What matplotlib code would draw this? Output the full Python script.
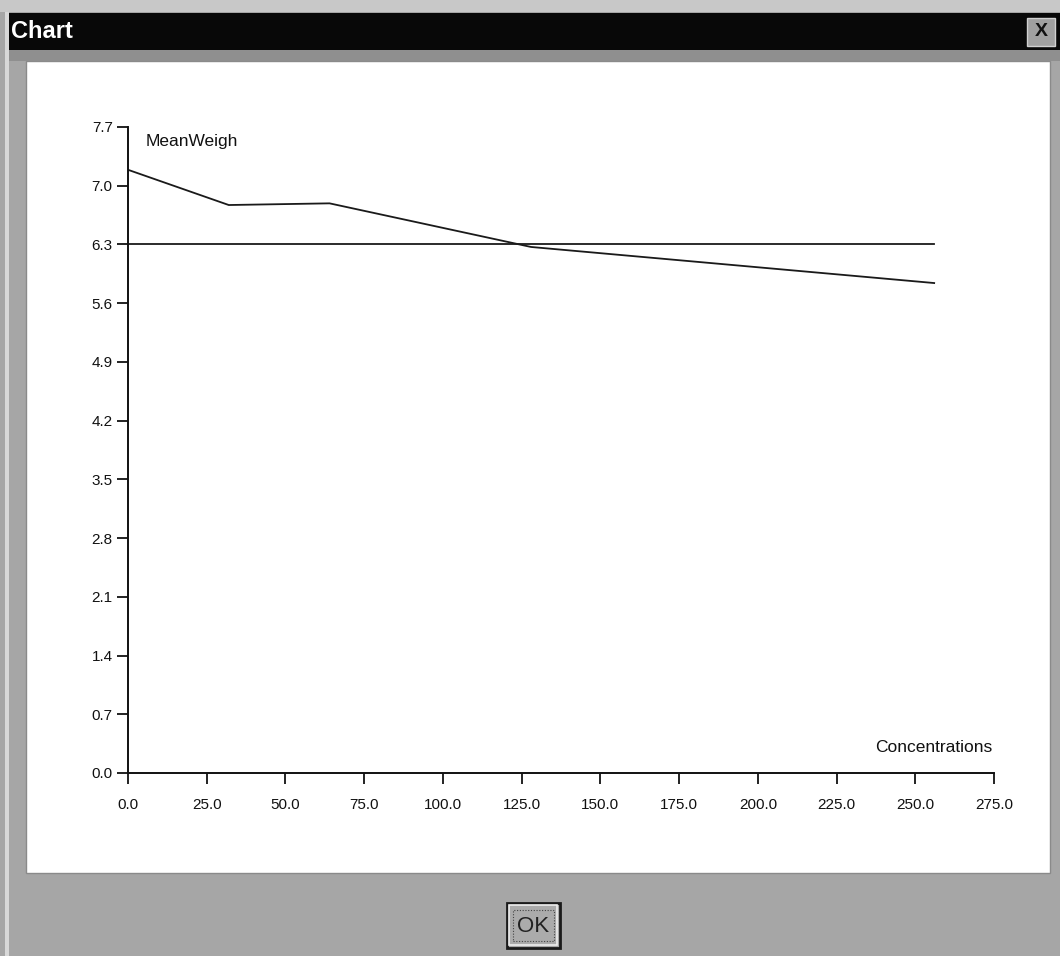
import matplotlib
matplotlib.use("Agg")
import matplotlib.pyplot as plt
from matplotlib.patches import Rectangle

plt.rcParams['font.family'] = ['Liberation Sans', 'DejaVu Sans']

# data
conc = [0, 32, 64, 128, 256]
mean_weigh = [7.19, 6.77, 6.79, 6.27, 5.84]
ref_conc = [0, 256]
ref_weigh = [6.3, 6.3]

x_ticks = [0, 25, 50, 75, 100, 125, 150, 175, 200, 225, 250, 275]
y_ticks = [0.0, 0.7, 1.4, 2.1, 2.8, 3.5, 4.2, 4.9, 5.6, 6.3, 7.0, 7.7]

W, H = 1060, 956
fig = plt.figure(figsize=(W / 100, H / 100), dpi=100)
fig.patch.set_facecolor('#a6a6a6')

def px_rect(x0, y0, x1, y1, **kw):
    # rectangle given in pixel coords (top-left origin)
    r = Rectangle((x0 / W, 1 - y1 / H), (x1 - x0) / W, (y1 - y0) / H,
                  transform=fig.transFigure, zorder=-5, **kw)
    fig.patches.append(r)
    return r

# window frame
px_rect(0, 0, W, 12, facecolor='#c8c8c8', edgecolor='none')
px_rect(5, 12, 9, H, facecolor='#d8d8d8', edgecolor='none')
px_rect(9, 13, W, 50, facecolor='#080808', edgecolor='none')
px_rect(9, 50, W, 61, facecolor='#8f8f8f', edgecolor='none')
px_rect(26, 61, 1050, 873, facecolor='white', edgecolor='#8a8a8a', lw=1)
fig.text(11 / W, 1 - 32 / H, 'Chart', color='white', fontsize=17,
         fontweight='bold', va='center', ha='left')
# close button
px_rect(1027, 18, 1055, 46, facecolor='#a0a0a0', edgecolor='#d0d0d0', lw=1)
fig.text(1041 / W, 1 - 32 / H, 'X', color='#111111', fontsize=14,
         fontweight='bold', va='center', ha='center')

# OK button
px_rect(507, 903, 560, 948, facecolor='#a8a8a8', edgecolor='#1a1a1a', lw=2)
px_rect(509, 905, 557, 945, facecolor='#ababab', edgecolor='#eeeeee', lw=1.2)
px_rect(513, 910, 554, 941, facecolor='none', edgecolor='#444444', lw=0.8,
        linestyle=(0, (1, 1.5)))
fig.text(533 / W, 1 - 926 / H, 'OK', color='#222222', fontsize=16,
         va='center', ha='center')

# plot area
ax = fig.add_axes([128 / W, 1 - 773 / H, (994 - 128) / W, (773 - 127) / H])
ax.set_zorder(5)
ax.patch.set_alpha(0)
ax.plot(conc, mean_weigh, color='#1a1a1a', lw=1.3)
ax.plot(ref_conc, ref_weigh, color='#1a1a1a', lw=1.3)

ax.set_xlim(0, 275)
ax.set_ylim(0, 7.7)
ax.set_xticks(x_ticks)
ax.set_xticklabels([f'{v:.1f}' for v in x_ticks])
ax.set_yticks(y_ticks)
ax.set_yticklabels([f'{v:.1f}' for v in y_ticks])
for s in ['top', 'right']:
    ax.spines[s].set_visible(False)
for s in ['left', 'bottom']:
    ax.spines[s].set_linewidth(1.4)
    ax.spines[s].set_color('#111111')
ax.tick_params(axis='both', direction='out', length=8, width=1.3,
               colors='#111111', labelsize=11)
ax.tick_params(axis='x', pad=10)
ax.tick_params(axis='y', pad=3)

ax.text(5.7, 7.53, 'MeanWeigh', fontsize=12.5, color='#111111',
        ha='left', va='center')
ax.text(274.5, 0.30, 'Concentrations', fontsize=12.5, color='#111111',
        ha='right', va='center')

fig.savefig('out.png', dpi=100, facecolor=fig.get_facecolor())
